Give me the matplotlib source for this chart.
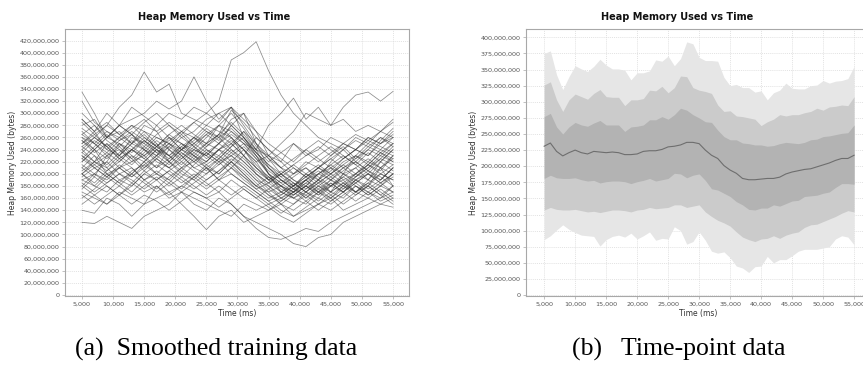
import matplotlib
matplotlib.use("Agg")
import matplotlib.pyplot as plt
from matplotlib.ticker import FuncFormatter, MultipleLocator
import numpy as np

# ---- training runs (heap in MB, sampled every 2 s from 5 s to 55 s) ----
run_times = list(range(5000, 55001, 2000))

training_runs = [
    [290, 270, 300, 280, 310, 295, 280, 300, 290, 310, 300, 320, 388, 400, 418, 370, 330, 300, 280, 260, 250, 240, 255, 245, 260, 250],
    [335, 300, 260, 250, 240, 230, 250, 220, 240, 230, 250, 240, 260, 230, 210, 190, 180, 170, 190, 200, 210, 190, 200, 220, 210, 230],
    [320, 285, 270, 255, 265, 240, 230, 260, 250, 230, 220, 240, 250, 230, 200, 185, 170, 160, 175, 190, 180, 200, 210, 190, 220, 240],
    [240, 260, 280, 310, 330, 368, 335, 348, 300, 290, 280, 300, 310, 260, 240, 230, 220, 250, 230, 240, 260, 250, 240, 260, 250, 270],
    [220, 240, 260, 280, 290, 300, 320, 307, 320, 360, 320, 290, 310, 280, 250, 230, 210, 200, 220, 210, 230, 250, 240, 230, 250, 260],
    [200, 220, 210, 230, 250, 240, 260, 250, 270, 260, 280, 270, 260, 240, 220, 230, 250, 270, 300, 290, 280, 310, 330, 335, 320, 336],
    [200, 180, 170, 190, 180, 200, 190, 170, 180, 170, 160, 170, 150, 130, 120, 110, 100, 85, 80, 95, 100, 120, 130, 140, 150, 145],
    [170, 160, 150, 170, 160, 150, 180, 160, 170, 150, 140, 160, 150, 130, 110, 95, 92, 100, 110, 105, 120, 130, 140, 150, 160, 170],
    [120, 118, 130, 120, 110, 130, 140, 150, 170, 160, 150, 140, 130, 150, 140, 150, 160, 170, 180, 170, 160, 180, 170, 190, 180, 200],
    [140, 135, 160, 150, 130, 150, 160, 170, 150, 130, 108, 130, 140, 120, 130, 140, 150, 130, 140, 150, 160, 140, 150, 160, 150, 160],
    [260, 250, 270, 260, 280, 270, 260, 250, 240, 260, 250, 280, 270, 250, 240, 280, 300, 325, 290, 310, 280, 290, 270, 280, 270, 290],
    [280, 290, 260, 270, 250, 280, 270, 240, 260, 270, 290, 300, 280, 260, 230, 200, 180, 170, 190, 210, 200, 220, 230, 250, 240, 260],
    [250, 270, 240, 230, 260, 250, 280, 260, 240, 250, 270, 260, 290, 300, 250, 210, 190, 180, 200, 190, 210, 200, 230, 220, 240, 230],
    [230, 210, 220, 250, 230, 220, 240, 230, 210, 220, 240, 230, 250, 270, 240, 200, 170, 160, 150, 170, 180, 190, 170, 180, 200, 190],
    [210, 230, 200, 210, 220, 240, 220, 210, 230, 210, 200, 220, 230, 210, 190, 180, 160, 150, 170, 160, 180, 170, 190, 200, 190, 210],
    [190, 200, 220, 200, 210, 190, 200, 220, 200, 190, 210, 200, 220, 240, 220, 190, 170, 180, 160, 180, 170, 200, 190, 180, 210, 200],
    [270, 250, 230, 240, 220, 230, 210, 240, 220, 240, 230, 250, 280, 300, 270, 230, 210, 190, 180, 200, 190, 210, 220, 240, 230, 250],
    [240, 220, 250, 230, 250, 270, 250, 230, 250, 240, 260, 280, 260, 240, 210, 190, 200, 180, 190, 170, 190, 180, 200, 190, 210, 180],
    [180, 200, 190, 210, 230, 210, 230, 250, 230, 210, 220, 240, 220, 200, 180, 170, 180, 160, 170, 190, 170, 160, 180, 170, 160, 180],
    [260, 240, 210, 190, 200, 220, 200, 190, 210, 230, 210, 190, 210, 230, 260, 240, 220, 200, 210, 190, 220, 240, 260, 250, 270, 260],
    [225, 245, 265, 245, 225, 205, 225, 245, 265, 245, 225, 240, 230, 215, 195, 175, 160, 175, 190, 175, 160, 175, 195, 210, 225, 215],
    [200, 185, 205, 225, 210, 190, 205, 190, 175, 195, 215, 200, 220, 205, 185, 165, 150, 140, 155, 170, 185, 170, 155, 170, 185, 170],
    [290, 270, 285, 265, 280, 260, 245, 265, 280, 265, 250, 265, 305, 285, 260, 240, 225, 210, 195, 210, 225, 240, 220, 205, 225, 245],
    [245, 230, 215, 235, 255, 240, 225, 210, 225, 245, 265, 250, 235, 220, 200, 185, 200, 215, 200, 185, 200, 215, 230, 215, 200, 215],
    [175, 195, 180, 165, 180, 200, 215, 200, 185, 200, 185, 170, 190, 175, 160, 175, 190, 175, 165, 180, 195, 210, 195, 210, 230, 220],
    [215, 200, 185, 200, 190, 175, 190, 205, 190, 175, 190, 205, 220, 200, 180, 165, 155, 170, 185, 200, 215, 230, 215, 200, 185, 200],
    [300, 280, 260, 280, 265, 285, 300, 280, 265, 285, 300, 285, 310, 290, 270, 250, 235, 220, 240, 255, 240, 225, 240, 255, 245, 235],
    [160, 175, 195, 180, 200, 185, 170, 185, 205, 190, 175, 190, 200, 185, 170, 155, 140, 130, 145, 160, 150, 165, 180, 165, 180, 195],
    [235, 255, 240, 260, 245, 230, 245, 265, 250, 235, 250, 265, 250, 230, 210, 195, 180, 195, 210, 195, 180, 195, 210, 225, 210, 225],
    [255, 235, 250, 230, 215, 235, 255, 240, 225, 240, 230, 215, 235, 250, 225, 205, 190, 175, 160, 175, 190, 175, 190, 205, 195, 180],
    [205, 220, 235, 220, 240, 225, 210, 225, 240, 225, 210, 225, 245, 260, 235, 215, 200, 185, 170, 185, 170, 185, 200, 215, 205, 230],
    [185, 170, 185, 200, 185, 170, 180, 165, 180, 195, 180, 195, 210, 190, 175, 160, 170, 185, 170, 155, 170, 185, 170, 185, 170, 155],
    [275, 260, 245, 260, 275, 290, 270, 285, 270, 250, 265, 280, 300, 275, 245, 225, 210, 225, 240, 225, 210, 225, 240, 260, 250, 265],
    [165, 150, 165, 180, 165, 180, 195, 180, 195, 180, 165, 180, 165, 180, 165, 150, 135, 150, 165, 150, 140, 155, 170, 160, 175, 160],
    [230, 215, 230, 210, 195, 210, 225, 210, 195, 215, 235, 220, 240, 225, 205, 190, 205, 190, 175, 190, 205, 225, 240, 230, 255, 275],
    [195, 210, 195, 215, 200, 220, 240, 225, 245, 230, 215, 230, 215, 195, 180, 195, 180, 165, 180, 200, 215, 200, 185, 200, 220, 205],
    [250, 265, 280, 265, 250, 265, 245, 230, 245, 260, 245, 265, 285, 265, 240, 220, 235, 250, 235, 220, 235, 250, 265, 255, 270, 285],
    [220, 240, 225, 245, 265, 250, 235, 250, 235, 220, 235, 220, 200, 185, 170, 155, 165, 180, 195, 180, 165, 150, 165, 180, 165, 150],
    [210, 195, 230, 250, 235, 255, 240, 220, 205, 225, 245, 260, 240, 220, 200, 180, 165, 180, 195, 210, 195, 180, 195, 215, 235, 250],
    [265, 280, 255, 240, 225, 245, 265, 280, 260, 245, 230, 250, 270, 255, 230, 210, 190, 175, 190, 205, 190, 205, 220, 205, 190, 210],
    [180, 165, 180, 165, 185, 205, 190, 205, 220, 205, 190, 205, 225, 210, 190, 170, 150, 165, 180, 165, 180, 195, 180, 165, 180, 170],
    [245, 260, 245, 225, 240, 225, 245, 230, 215, 235, 220, 240, 255, 240, 215, 195, 175, 165, 180, 165, 185, 170, 185, 200, 185, 200],
    [285, 265, 245, 225, 240, 255, 235, 220, 240, 260, 240, 225, 245, 270, 250, 225, 200, 215, 230, 245, 230, 245, 225, 240, 260, 245],
    [200, 215, 200, 185, 170, 190, 175, 195, 210, 195, 210, 190, 175, 160, 150, 140, 155, 170, 155, 140, 155, 170, 185, 170, 155, 165],
    [235, 220, 205, 220, 240, 260, 245, 260, 240, 255, 275, 260, 275, 255, 235, 210, 195, 210, 195, 210, 225, 210, 225, 245, 235, 220],
    [255, 240, 260, 280, 265, 245, 230, 215, 235, 220, 205, 225, 210, 195, 175, 185, 200, 185, 170, 185, 200, 185, 170, 185, 200, 190],
    [190, 180, 200, 185, 205, 215, 200, 185, 170, 185, 200, 215, 230, 245, 225, 200, 185, 170, 185, 170, 155, 170, 190, 175, 190, 210],
    [225, 210, 195, 210, 195, 215, 230, 245, 230, 250, 235, 250, 265, 250, 230, 200, 185, 200, 215, 230, 245, 230, 215, 235, 220, 240],
    [150, 165, 150, 165, 150, 165, 155, 140, 155, 170, 160, 145, 160, 175, 160, 145, 130, 120, 135, 150, 165, 180, 165, 180, 165, 180],
    [265, 250, 235, 255, 270, 255, 240, 255, 270, 285, 270, 255, 280, 260, 235, 215, 195, 180, 200, 215, 200, 215, 200, 215, 235, 225],
]

# ---- time-point summary (heap in MB, every 1 s from 5 s to 55 s) ----
point_times = list(range(5000, 55001, 1000))

upper_outer = [375, 379, 342, 319, 339, 356, 351, 347, 355, 366, 357, 351, 351, 349, 334, 345, 345,
               348, 365, 363, 371, 356, 367, 393, 390, 369, 364, 364, 363, 338, 325, 327, 322, 322,
               315, 317, 303, 314, 318, 329, 321, 320, 320, 325, 326, 333, 329, 332, 333, 336, 355]
upper_mid = [326, 331, 303, 285, 303, 312, 308, 304, 313, 319, 308, 307, 307, 294, 303, 303, 305,
             318, 317, 324, 314, 322, 340, 339, 322, 318, 316, 313, 295, 285, 286, 278, 277, 275,
             273, 263, 269, 273, 280, 278, 280, 280, 283, 285, 290, 287, 292, 293, 295, 294, 308]
upper_inner = [277, 282, 261, 250, 261, 268, 264, 262, 267, 271, 264, 264, 264, 254, 261, 262, 264,
               272, 272, 277, 273, 280, 290, 287, 280, 275, 269, 268, 256, 246, 241, 241, 236, 235,
               233, 233, 231, 232, 235, 237, 236, 235, 237, 241, 242, 246, 247, 249, 251, 252, 264]
median = [231, 236, 223, 216, 221, 225, 221, 219, 223, 222, 221, 222, 221, 218, 218, 219, 223,
          224, 224, 226, 230, 231, 233, 237, 237, 235, 225, 217, 212, 201, 194, 189, 181, 179,
          179, 180, 181, 181, 183, 188, 191, 193, 195, 196, 199, 202, 205, 209, 212, 212, 217]
lower_inner = [181, 186, 182, 181, 181, 182, 179, 177, 178, 174, 176, 177, 177, 176, 173, 176, 178,
               181, 177, 179, 181, 189, 188, 182, 186, 188, 178, 165, 163, 158, 153, 145, 140, 133,
               132, 135, 135, 140, 138, 142, 146, 147, 153, 154, 155, 158, 160, 167, 173, 173, 172]
lower_mid = [132, 136, 133, 132, 132, 133, 131, 129, 130, 128, 130, 132, 132, 131, 129, 132, 133,
             136, 134, 135, 136, 140, 140, 136, 138, 140, 129, 122, 116, 112, 107, 98, 90, 86,
             83, 87, 88, 92, 88, 93, 96, 98, 105, 109, 110, 114, 118, 122, 127, 131, 129]
lower_outer = [86, 92, 101, 109, 102, 97, 93, 92, 91, 76, 86, 91, 93, 90, 96, 87, 92,
               98, 85, 88, 87, 106, 100, 79, 83, 98, 85, 68, 65, 67, 58, 45, 42, 35,
               44, 45, 60, 50, 55, 55, 61, 68, 71, 71, 71, 73, 75, 87, 92, 90, 78]

MB = 1e6
grey_text = '#555555'
grid_col = '#d8d8d8'
frame_col = '#a8a8a8'


def comma_fmt(v, pos):
    return f"{int(round(v)):,}"


def style_axes(ax, ymax, ystep):
    ax.set_facecolor('white')
    ax.set_xlim(2270, 57570)
    ax.set_ylim(-1.5 * MB, ymax)
    ax.xaxis.set_major_locator(MultipleLocator(5000))
    ax.yaxis.set_major_locator(MultipleLocator(ystep))
    ax.xaxis.set_major_formatter(FuncFormatter(comma_fmt))
    ax.yaxis.set_major_formatter(FuncFormatter(comma_fmt))
    ax.grid(True, color=grid_col, linestyle=(0, (1.5, 1.5)), linewidth=0.5)
    ax.set_axisbelow(True)
    for sp in ax.spines.values():
        sp.set_color(frame_col)
        sp.set_linewidth(0.8)
    ax.tick_params(length=2, width=0.5, color=frame_col, labelcolor=grey_text,
                   labelsize=4.6, pad=2)
    ax.set_xlabel("Time (ms)", fontsize=5.5, color='#333333', labelpad=1.5)
    ax.set_ylabel("Heap Memory Used (bytes)", fontsize=5.5, color='#333333')
    ax.yaxis.set_label_coords(-0.14, 0.5)


fig = plt.figure(figsize=(8.63, 3.67), dpi=100)

# (a) all smoothed runs
ax1 = fig.add_axes([65 / 863, 71 / 367, 344 / 863, 267 / 367])
for run in training_runs:
    ax1.plot(run_times, np.array(run) * MB, color='#2e2e2e', alpha=0.55, linewidth=0.55)
style_axes(ax1, 439 * MB, 20 * MB)

# (b) percentile bands around the median
ax2 = fig.add_axes([526 / 863, 71 / 367, 344 / 863, 267 / 367])
t = np.array(point_times)
ax2.fill_between(t, np.array(lower_outer) * MB, np.array(upper_outer) * MB,
                 color='#e6e6e6', linewidth=0)
ax2.fill_between(t, np.array(lower_mid) * MB, np.array(upper_mid) * MB,
                 color='#cbcbcb', linewidth=0)
ax2.fill_between(t, np.array(lower_inner) * MB, np.array(upper_inner) * MB,
                 color='#b3b3b3', linewidth=0)
ax2.plot(t, np.array(median) * MB, color='#6e6e6e', linewidth=0.8)
style_axes(ax2, 413 * MB, 25 * MB)
ax2.set_xlim(2070, 57570)

fig.text(214 / 863, 1 - 17 / 367, "Heap Memory Used vs Time", ha='center', va='center',
         fontsize=7, fontweight='bold', color='#111111')
fig.text(677 / 863, 1 - 17 / 367, "Heap Memory Used vs Time", ha='center', va='center',
         fontsize=7, fontweight='bold', color='#111111')

fig.text(216 / 863, 1 - 356 / 367, "(a)  Smoothed training data", ha='center', va='baseline',
         fontsize=18.5, family='Liberation Serif')
fig.text(679 / 863, 1 - 356 / 367, "(b)   Time-point data", ha='center', va='baseline',
         fontsize=18.5, family='Liberation Serif')

fig.savefig('out.png', dpi=100, facecolor='white')
